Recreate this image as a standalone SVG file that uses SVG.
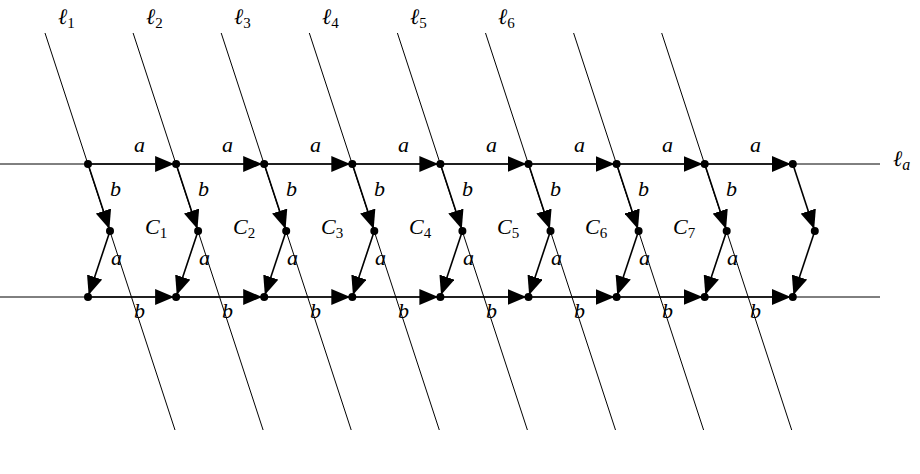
<svg xmlns="http://www.w3.org/2000/svg" width="920" height="474" viewBox="0 0 920 474">
<defs>
<style>
.thin{stroke:#000;stroke-width:1;fill:none}
.e{stroke:#000;stroke-width:1.6;fill:none;marker-end:url(#ah)}
.n{fill:#000}
text{font-family:"Liberation Serif",serif;font-style:italic;font-size:22px;fill:#000}
.sub{font-style:normal;font-size:15px}
.subi{font-style:italic;font-size:16px}
</style>
<marker id="ah" markerUnits="userSpaceOnUse" markerWidth="22" markerHeight="16" refX="21" refY="8" orient="auto"><path d="M0,0 L19,8 L0,16 Z" fill="#000"/></marker>
</defs>
<g id="lines">
<line class="thin" x1="0" y1="164" x2="880" y2="164"/>
<line class="thin" x1="0" y1="297" x2="880" y2="297"/>
<line class="thin" x1="45" y1="33" x2="175" y2="430"/>
<line class="thin" x1="133.1" y1="33" x2="263.1" y2="430"/>
<line class="thin" x1="221.2" y1="33" x2="351.2" y2="430"/>
<line class="thin" x1="309.3" y1="33" x2="439.3" y2="430"/>
<line class="thin" x1="397.4" y1="33" x2="527.4" y2="430"/>
<line class="thin" x1="485.5" y1="33" x2="615.5" y2="430"/>
<line class="thin" x1="573.6" y1="33" x2="703.6" y2="430"/>
<line class="thin" x1="661.7" y1="33" x2="791.7" y2="430"/>
</g>
<g id="connectors">
<line class="e" x1="88" y1="164" x2="176.1" y2="164"/>
<line class="e" x1="176.1" y1="164" x2="264.2" y2="164"/>
<line class="e" x1="264.2" y1="164" x2="352.3" y2="164"/>
<line class="e" x1="352.3" y1="164" x2="440.4" y2="164"/>
<line class="e" x1="440.4" y1="164" x2="528.5" y2="164"/>
<line class="e" x1="528.5" y1="164" x2="616.6" y2="164"/>
<line class="e" x1="616.6" y1="164" x2="704.7" y2="164"/>
<line class="e" x1="704.7" y1="164" x2="792.8" y2="164"/>
<line class="e" x1="88" y1="297" x2="176.1" y2="297"/>
<line class="e" x1="176.1" y1="297" x2="264.2" y2="297"/>
<line class="e" x1="264.2" y1="297" x2="352.3" y2="297"/>
<line class="e" x1="352.3" y1="297" x2="440.4" y2="297"/>
<line class="e" x1="440.4" y1="297" x2="528.5" y2="297"/>
<line class="e" x1="528.5" y1="297" x2="616.6" y2="297"/>
<line class="e" x1="616.6" y1="297" x2="704.7" y2="297"/>
<line class="e" x1="704.7" y1="297" x2="792.8" y2="297"/>
<line class="e" x1="88" y1="164" x2="110" y2="231"/>
<line class="e" x1="176.1" y1="164" x2="198.1" y2="231"/>
<line class="e" x1="264.2" y1="164" x2="286.2" y2="231"/>
<line class="e" x1="352.3" y1="164" x2="374.3" y2="231"/>
<line class="e" x1="440.4" y1="164" x2="462.4" y2="231"/>
<line class="e" x1="528.5" y1="164" x2="550.5" y2="231"/>
<line class="e" x1="616.6" y1="164" x2="638.6" y2="231"/>
<line class="e" x1="704.7" y1="164" x2="726.7" y2="231"/>
<line class="e" x1="792.8" y1="164" x2="814.8" y2="231"/>
<line class="e" x1="110" y1="231" x2="88" y2="297"/>
<line class="e" x1="198.1" y1="231" x2="176.1" y2="297"/>
<line class="e" x1="286.2" y1="231" x2="264.2" y2="297"/>
<line class="e" x1="374.3" y1="231" x2="352.3" y2="297"/>
<line class="e" x1="462.4" y1="231" x2="440.4" y2="297"/>
<line class="e" x1="550.5" y1="231" x2="528.5" y2="297"/>
<line class="e" x1="638.6" y1="231" x2="616.6" y2="297"/>
<line class="e" x1="726.7" y1="231" x2="704.7" y2="297"/>
<line class="e" x1="814.8" y1="231" x2="792.8" y2="297"/>
</g>
<g id="nodes">
<circle class="n" cx="88" cy="164" r="4"/><circle class="n" cx="176.1" cy="164" r="4"/><circle class="n" cx="264.2" cy="164" r="4"/><circle class="n" cx="352.3" cy="164" r="4"/><circle class="n" cx="440.4" cy="164" r="4"/><circle class="n" cx="528.5" cy="164" r="4"/><circle class="n" cx="616.6" cy="164" r="4"/><circle class="n" cx="704.7" cy="164" r="4"/><circle class="n" cx="792.8" cy="164" r="4"/>
<circle class="n" cx="110" cy="231" r="4"/><circle class="n" cx="198.1" cy="231" r="4"/><circle class="n" cx="286.2" cy="231" r="4"/><circle class="n" cx="374.3" cy="231" r="4"/><circle class="n" cx="462.4" cy="231" r="4"/><circle class="n" cx="550.5" cy="231" r="4"/><circle class="n" cx="638.6" cy="231" r="4"/><circle class="n" cx="726.7" cy="231" r="4"/><circle class="n" cx="814.8" cy="231" r="4"/>
<circle class="n" cx="88" cy="297" r="4"/><circle class="n" cx="176.1" cy="297" r="4"/><circle class="n" cx="264.2" cy="297" r="4"/><circle class="n" cx="352.3" cy="297" r="4"/><circle class="n" cx="440.4" cy="297" r="4"/><circle class="n" cx="528.5" cy="297" r="4"/><circle class="n" cx="616.6" cy="297" r="4"/><circle class="n" cx="704.7" cy="297" r="4"/><circle class="n" cx="792.8" cy="297" r="4"/>
</g>
<g id="labels">
<text x="58" y="24">ℓ<tspan class="sub" dy="4">1</tspan></text>
<text x="146" y="24">ℓ<tspan class="sub" dy="4">2</tspan></text>
<text x="234" y="24">ℓ<tspan class="sub" dy="4">3</tspan></text>
<text x="322" y="24">ℓ<tspan class="sub" dy="4">4</tspan></text>
<text x="410" y="24">ℓ<tspan class="sub" dy="4">5</tspan></text>
<text x="498" y="24">ℓ<tspan class="sub" dy="4">6</tspan></text>
<text x="893" y="166">ℓ<tspan class="subi" dy="4">a</tspan></text>
<text x="134" y="152">a</text><text x="222" y="152">a</text><text x="310" y="152">a</text><text x="398" y="152">a</text><text x="486" y="152">a</text><text x="574" y="152">a</text><text x="662" y="152">a</text><text x="750" y="152">a</text>
<text x="110" y="196">b</text><text x="198" y="196">b</text><text x="286" y="196">b</text><text x="374" y="196">b</text><text x="462" y="196">b</text><text x="550" y="196">b</text><text x="638" y="196">b</text><text x="726" y="196">b</text>
<text x="111" y="265">a</text><text x="199" y="265">a</text><text x="287" y="265">a</text><text x="375" y="265">a</text><text x="463" y="265">a</text><text x="551" y="265">a</text><text x="639" y="265">a</text><text x="727" y="265">a</text>
<text x="134" y="318">b</text><text x="222" y="318">b</text><text x="310" y="318">b</text><text x="398" y="318">b</text><text x="486" y="318">b</text><text x="574" y="318">b</text><text x="662" y="318">b</text><text x="750" y="318">b</text>
<text x="145" y="234">C<tspan class="sub" dy="4">1</tspan></text>
<text x="233" y="234">C<tspan class="sub" dy="4">2</tspan></text>
<text x="321" y="234">C<tspan class="sub" dy="4">3</tspan></text>
<text x="409" y="234">C<tspan class="sub" dy="4">4</tspan></text>
<text x="497" y="234">C<tspan class="sub" dy="4">5</tspan></text>
<text x="585" y="234">C<tspan class="sub" dy="4">6</tspan></text>
<text x="673" y="234">C<tspan class="sub" dy="4">7</tspan></text>
</g>
</svg>
